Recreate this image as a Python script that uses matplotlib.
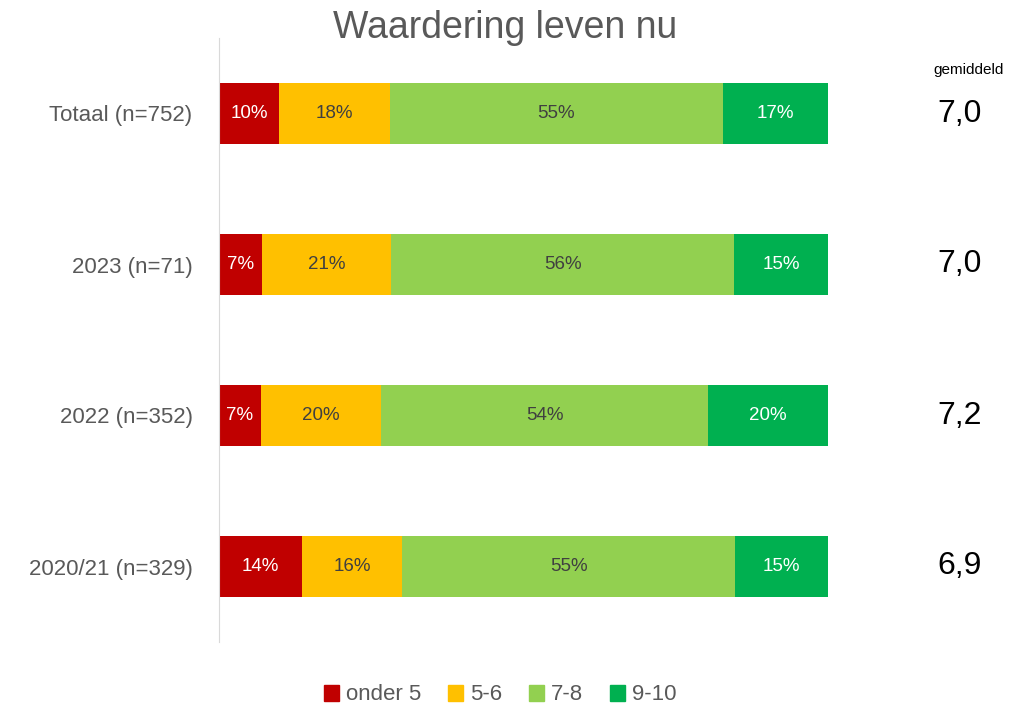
import numpy as np
import matplotlib.pyplot as plt
from matplotlib.patches import Patch

plt.rcParams['font.family'] = ['Liberation Sans', 'DejaVu Sans']

groups = ['Totaal (n=752)', '2023 (n=71)', '2022 (n=352)', '2020/21 (n=329)']
series = ['onder 5', '5-6', '7-8', '9-10']
onder5 = [9.9, 7.0, 6.9, 13.7]
vijf_zes = [18.2, 21.3, 19.7, 16.3]
zeven_acht = [54.6, 56.3, 53.7, 54.8]
negen_tien = [17.3, 15.4, 19.7, 15.2]
gemiddeld = ['7,0', '7,0', '7,2', '6,9']

colors = ['#C00000', '#FFC000', '#92D050', '#00B050']
text_colors = ['white', '#404040', '#404040', 'white']
grey = '#595959'

fig = plt.figure(figsize=(10.13, 7.08), dpi=100)
ax = fig.add_axes([219 / 1013, 1 - 642 / 708, (828 - 219) / 1013, (642 - 38) / 708])

y = np.arange(len(groups))
left = np.zeros(len(groups))
for vals, c, tc in zip([onder5, vijf_zes, zeven_acht, negen_tien], colors, text_colors):
    vals = np.array(vals)
    bars = ax.barh(y, vals, left=left, height=0.4, color=c)
    for b, v in zip(bars, vals):
        ax.text(b.get_x() + b.get_width() / 2, b.get_y() + b.get_height() / 2,
                f'{v:.0f}%', ha='center', va='center', color=tc, fontsize=13.5)
    left += vals

ax.set_xlim(0, 100)
ax.set_ylim(3.5, -0.5)
ax.set_yticks(y)
ax.set_yticklabels(groups, fontsize=16, color=grey)
ax.tick_params(axis='y', length=0, pad=19)
ax.set_xticks([])
for s in ['top', 'right', 'bottom']:
    ax.spines[s].set_visible(False)
ax.spines['left'].set_color('#D9D9D9')

for yi, g in zip(y, gemiddeld):
    ax.text(1.2155, yi, g, transform=ax.get_yaxis_transform(), ha='center', va='center',
            fontsize=23, color='black')
ax.text(1.231, -0.29, 'gemiddeld', transform=ax.get_yaxis_transform(), ha='center',
        va='center', fontsize=11, color='black')

fig.text(505 / 1013, 1 - 28 / 708, 'Waardering leven nu', ha='center', va='center',
         fontsize=27, color=grey)

handles = [Patch(color=c, label=s) for c, s in zip(colors, series)]
fig.legend(handles=handles, loc='center', bbox_to_anchor=(500 / 1013, 1 - 695 / 708),
           ncol=4, frameon=False, fontsize=16, handlelength=0.7, handleheight=0.7,
           handletextpad=0.3, columnspacing=1.2, labelcolor=grey)

fig.savefig('out.png', dpi=100)
